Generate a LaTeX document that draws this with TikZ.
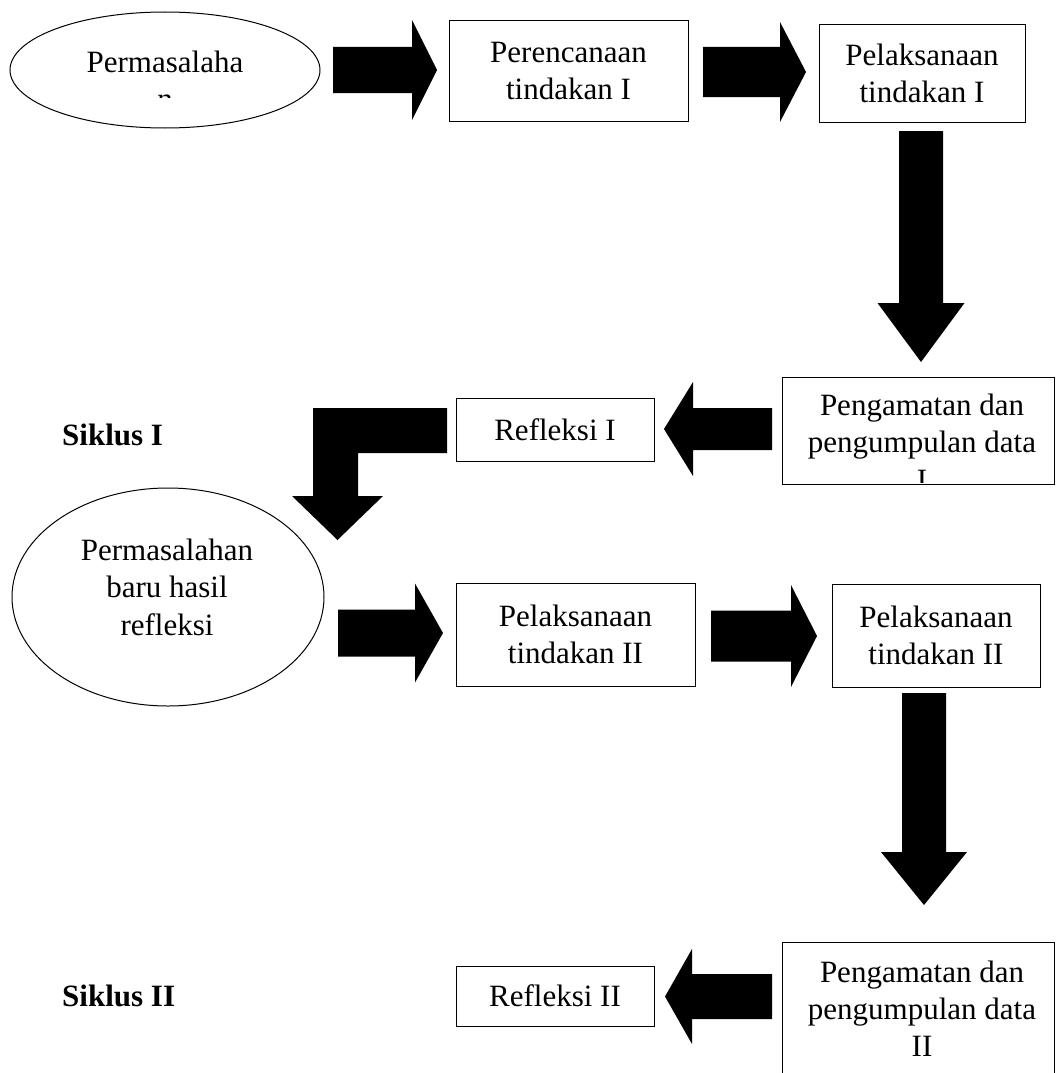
\documentclass[tikz,border=0pt]{standalone}
\usepackage{fontspec}
\setmainfont{Liberation Serif}
\usetikzlibrary{shapes.geometric}
\newcommand{\dgfont}{\fontsize{31}{37}\selectfont}
% horizontal block arrow: tail x, head-base x, tip x, centre y, shaft half width, head half width
\newcommand{\ArrowH}[6]{\fill[black] (#1,#4-#5) -- (#2,#4-#5) -- (#2,#4-#6) -- (#3,#4) -- (#2,#4+#6) -- (#2,#4+#5) -- (#1,#4+#5) -- cycle;}
% vertical block arrow: centre x, tail y, head-base y, tip y, shaft half width, head half width
\newcommand{\ArrowV}[6]{\fill[black] (#1-#5,#2) -- (#1-#5,#3) -- (#1-#6,#3) -- (#1,#4) -- (#1+#6,#3) -- (#1+#5,#3) -- (#1+#5,#2) -- cycle;}
\tikzset{
  boxnode/.style={draw, line width=1pt, rectangle, inner sep=0pt, align=center, font=\dgfont},
  ellnode/.style={draw, line width=1pt, ellipse, inner sep=0pt},
  txt/.style={inner sep=0pt, font=\dgfont},
  boldtxt/.style={inner sep=0pt, font=\dgfont\bfseries}
}
\begin{document}
\begin{tikzpicture}[x=1pt,y=-1pt]
\useasboundingbox (0,0) rectangle (1055,1073);
\fill[white] (0,0) rectangle (1055,1073);

% ---------- row 1 ----------
\node[ellnode, minimum width=310, minimum height=116] (e1) at (165,70) {};
\begin{scope}
  \clip (0,0) rectangle (1055,97);
  \node[txt, anchor=base] (e1a) at (165,73) {Permasalaha};
  \node[txt, anchor=base] (e1b) at (165,109) {n};
\end{scope}
\ArrowH{333}{412}{437}{70}{23}{50}
\node[boxnode, minimum width=239, minimum height=100] (b1) at (568.5,71) {Perencanaan\\tindakan I};
\ArrowH{703}{780}{806}{72}{25}{50}
\node[boxnode, minimum width=206, minimum height=97] (b2) at (922,73.5) {Pelaksanaan\\tindakan I};
\ArrowV{921}{131}{303}{362}{22}{43.5}

% ---------- row 2 ----------
\node[boxnode, minimum width=272, minimum height=107] (b3) at (918,430.5) {};
\begin{scope}
  \clip (782,377) rectangle (1054,482);
  \node[txt, anchor=base] (b3a) at (922,415) {Pengamatan dan};
  \node[txt, anchor=base] (b3b) at (922,452) {pengumpulan data};
  \node[txt, anchor=base] (b3c) at (922,490) {I};
\end{scope}
\ArrowH{772}{693}{664}{429}{21}{47}
\node[boxnode, minimum width=198, minimum height=63] (r1) at (555,429.5) {Refleksi I};
\node[boldtxt, anchor=base west] (s1) at (62,445) {Siklus I};
% L-shaped arrow
\fill[black] (447,408) -- (313,408) -- (313,496) -- (292,496) -- (337.5,540) -- (383,496) -- (358,496) -- (358,453) -- (447,453) -- cycle;

% ---------- row 3 ----------
\node[ellnode, minimum width=312, minimum height=218] (e2) at (168,597) {};
\node[txt, anchor=base] (e2a) at (167,560) {Permasalahan};
\node[txt, anchor=base] (e2b) at (167,597) {baru hasil};
\node[txt, anchor=base] (e2c) at (167,635) {refleksi};
\ArrowH{338}{415}{443}{633}{23.5}{49.5}
\node[boxnode, minimum width=239, minimum height=103] (b4) at (575.5,634.5) {Pelaksanaan\\tindakan II};
\ArrowH{711}{791}{817}{636}{25.5}{51}
\node[boxnode, minimum width=208, minimum height=103] (b5) at (936,635.5) {Pelaksanaan\\tindakan II};
\ArrowV{924}{693}{852}{905}{22}{43}

% ---------- row 4 ----------
\node[boxnode, minimum width=272, minimum height=160] (b6) at (918,1022) {};
\node[txt, anchor=base] (b6a) at (922,982) {Pengamatan dan};
\node[txt, anchor=base] (b6b) at (922,1019) {pengumpulan data};
\node[txt, anchor=base] (b6c) at (922,1056) {II};
\ArrowH{772}{692}{665}{996.5}{22.5}{47.5}
\node[boxnode, minimum width=198, minimum height=60] (r2) at (555,996) {Refleksi II};
\node[boldtxt, anchor=base west] (s2) at (62,1006) {Siklus II};
\end{tikzpicture}
\end{document}
